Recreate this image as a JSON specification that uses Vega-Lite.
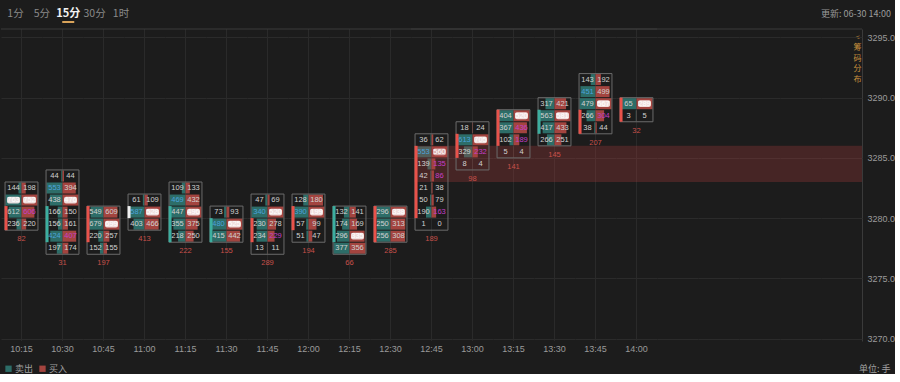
{
  "$schema": "https://vega.github.io/schema/vega-lite/v6.json",
  "background": "#1c1c1c",
  "padding": 0,
  "spacing": 0,
  "config": {"view": {"stroke": null}, "font": "Liberation Sans"},
  "title": {"text": "单位: 手", "orient": "bottom", "anchor": "end", "frame": "bounds", "fontSize": 9, "fontWeight": "normal", "color": "#a0a0a0", "font": "Noto Sans CJK SC", "offset": 0, "dy": -9, "dx": -4},
  "datasets": {
    "tabs": [{"tab": "1分"}, {"tab": "5分"}, {"tab": "15分"}, {"tab": "30分"}, {"tab": "1时"}],
    "fp": [
      {"k":"c","t":"10:15","lo":3282,"hi":3283,"s":144,"b":198,"sc":"n","bc":"n"},
      {"k":"c","t":"10:15","lo":3281,"hi":3282,"s":763,"b":752,"sc":"m","bc":"m"},
      {"k":"c","t":"10:15","lo":3280,"hi":3281,"s":612,"b":606,"sc":"n","bc":"bi"},
      {"k":"c","t":"10:15","lo":3279,"hi":3280,"s":236,"b":220,"sc":"n","bc":"n"},
      {"k":"c","t":"10:30","lo":3283,"hi":3284,"s":44,"b":44,"sc":"n","bc":"n"},
      {"k":"c","t":"10:30","lo":3282,"hi":3283,"s":553,"b":394,"sc":"si","bc":"n"},
      {"k":"c","t":"10:30","lo":3281,"hi":3282,"s":438,"b":476,"sc":"n","bc":"m"},
      {"k":"c","t":"10:30","lo":3280,"hi":3281,"s":166,"b":150,"sc":"n","bc":"n"},
      {"k":"c","t":"10:30","lo":3279,"hi":3280,"s":156,"b":161,"sc":"n","bc":"n"},
      {"k":"c","t":"10:30","lo":3278,"hi":3279,"s":424,"b":407,"sc":"si","bc":"bi"},
      {"k":"c","t":"10:30","lo":3277,"hi":3278,"s":197,"b":174,"sc":"n","bc":"n"},
      {"k":"c","t":"10:45","lo":3280,"hi":3281,"s":549,"b":609,"sc":"n","bc":"n"},
      {"k":"c","t":"10:45","lo":3279,"hi":3280,"s":679,"b":699,"sc":"n","bc":"m"},
      {"k":"c","t":"10:45","lo":3278,"hi":3279,"s":220,"b":257,"sc":"n","bc":"n"},
      {"k":"c","t":"10:45","lo":3277,"hi":3278,"s":152,"b":155,"sc":"n","bc":"n"},
      {"k":"c","t":"11:00","lo":3281,"hi":3282,"s":61,"b":109,"sc":"n","bc":"n"},
      {"k":"c","t":"11:00","lo":3280,"hi":3281,"s":587,"b":528,"sc":"si","bc":"m"},
      {"k":"c","t":"11:00","lo":3279,"hi":3280,"s":403,"b":466,"sc":"n","bc":"n"},
      {"k":"c","t":"11:15","lo":3282,"hi":3283,"s":109,"b":133,"sc":"n","bc":"n"},
      {"k":"c","t":"11:15","lo":3281,"hi":3282,"s":469,"b":432,"sc":"si","bc":"n"},
      {"k":"c","t":"11:15","lo":3280,"hi":3281,"s":447,"b":496,"sc":"n","bc":"m"},
      {"k":"c","t":"11:15","lo":3279,"hi":3280,"s":355,"b":375,"sc":"n","bc":"n"},
      {"k":"c","t":"11:15","lo":3278,"hi":3279,"s":218,"b":250,"sc":"n","bc":"n"},
      {"k":"c","t":"11:30","lo":3280,"hi":3281,"s":73,"b":93,"sc":"n","bc":"n"},
      {"k":"c","t":"11:30","lo":3279,"hi":3280,"s":480,"b":525,"sc":"si","bc":"m"},
      {"k":"c","t":"11:30","lo":3278,"hi":3279,"s":415,"b":442,"sc":"n","bc":"n"},
      {"k":"c","t":"11:45","lo":3281,"hi":3282,"s":47,"b":69,"sc":"n","bc":"n"},
      {"k":"c","t":"11:45","lo":3280,"hi":3281,"s":340,"b":520,"sc":"si","bc":"m"},
      {"k":"c","t":"11:45","lo":3279,"hi":3280,"s":230,"b":278,"sc":"n","bc":"n"},
      {"k":"c","t":"11:45","lo":3278,"hi":3279,"s":234,"b":229,"sc":"n","bc":"bi"},
      {"k":"c","t":"11:45","lo":3277,"hi":3278,"s":13,"b":11,"sc":"n","bc":"n"},
      {"k":"c","t":"12:00","lo":3281,"hi":3282,"s":128,"b":180,"sc":"n","bc":"n"},
      {"k":"c","t":"12:00","lo":3280,"hi":3281,"s":390,"b":199,"sc":"si","bc":"m"},
      {"k":"c","t":"12:00","lo":3279,"hi":3280,"s":57,"b":99,"sc":"n","bc":"n"},
      {"k":"c","t":"12:00","lo":3278,"hi":3279,"s":51,"b":47,"sc":"n","bc":"n"},
      {"k":"c","t":"12:15","lo":3280,"hi":3281,"s":132,"b":141,"sc":"n","bc":"n"},
      {"k":"c","t":"12:15","lo":3279,"hi":3280,"s":174,"b":169,"sc":"n","bc":"n"},
      {"k":"c","t":"12:15","lo":3278,"hi":3279,"s":296,"b":335,"sc":"n","bc":"m"},
      {"k":"c","t":"12:15","lo":3277,"hi":3278,"s":377,"b":356,"sc":"n","bc":"n"},
      {"k":"c","t":"12:30","lo":3280,"hi":3281,"s":296,"b":338,"sc":"n","bc":"m"},
      {"k":"c","t":"12:30","lo":3279,"hi":3280,"s":250,"b":313,"sc":"n","bc":"n"},
      {"k":"c","t":"12:30","lo":3278,"hi":3279,"s":256,"b":308,"sc":"n","bc":"n"},
      {"k":"c","t":"12:45","lo":3286,"hi":3287,"s":36,"b":62,"sc":"n","bc":"n"},
      {"k":"c","t":"12:45","lo":3285,"hi":3286,"s":553,"b":560,"sc":"si","bc":"m"},
      {"k":"c","t":"12:45","lo":3284,"hi":3285,"s":139,"b":135,"sc":"n","bc":"bi"},
      {"k":"c","t":"12:45","lo":3283,"hi":3284,"s":42,"b":86,"sc":"n","bc":"bi"},
      {"k":"c","t":"12:45","lo":3282,"hi":3283,"s":21,"b":38,"sc":"n","bc":"n"},
      {"k":"c","t":"12:45","lo":3281,"hi":3282,"s":50,"b":79,"sc":"n","bc":"n"},
      {"k":"c","t":"12:45","lo":3280,"hi":3281,"s":190,"b":163,"sc":"n","bc":"bi"},
      {"k":"c","t":"12:45","lo":3279,"hi":3280,"s":1,"b":0,"sc":"n","bc":"n"},
      {"k":"c","t":"13:00","lo":3287,"hi":3288,"s":18,"b":24,"sc":"n","bc":"n"},
      {"k":"c","t":"13:00","lo":3286,"hi":3287,"s":613,"b":705,"sc":"si","bc":"m"},
      {"k":"c","t":"13:00","lo":3285,"hi":3286,"s":329,"b":232,"sc":"n","bc":"bi"},
      {"k":"c","t":"13:00","lo":3284,"hi":3285,"s":8,"b":4,"sc":"n","bc":"n"},
      {"k":"c","t":"13:15","lo":3288,"hi":3289,"s":404,"b":520,"sc":"n","bc":"m"},
      {"k":"c","t":"13:15","lo":3287,"hi":3288,"s":367,"b":436,"sc":"n","bc":"bi"},
      {"k":"c","t":"13:15","lo":3286,"hi":3287,"s":102,"b":189,"sc":"n","bc":"bi"},
      {"k":"c","t":"13:15","lo":3285,"hi":3286,"s":5,"b":4,"sc":"n","bc":"n"},
      {"k":"c","t":"13:30","lo":3289,"hi":3290,"s":317,"b":421,"sc":"n","bc":"n"},
      {"k":"c","t":"13:30","lo":3288,"hi":3289,"s":563,"b":581,"sc":"n","bc":"m"},
      {"k":"c","t":"13:30","lo":3287,"hi":3288,"s":417,"b":433,"sc":"n","bc":"n"},
      {"k":"c","t":"13:30","lo":3286,"hi":3287,"s":266,"b":251,"sc":"n","bc":"n"},
      {"k":"c","t":"13:45","lo":3291,"hi":3292,"s":143,"b":192,"sc":"n","bc":"n"},
      {"k":"c","t":"13:45","lo":3290,"hi":3291,"s":451,"b":499,"sc":"si","bc":"n"},
      {"k":"c","t":"13:45","lo":3289,"hi":3290,"s":479,"b":567,"sc":"n","bc":"m"},
      {"k":"c","t":"13:45","lo":3288,"hi":3289,"s":266,"b":304,"sc":"n","bc":"bi"},
      {"k":"c","t":"13:45","lo":3287,"hi":3288,"s":38,"b":44,"sc":"n","bc":"n"},
      {"k":"c","t":"14:00","lo":3289,"hi":3290,"s":65,"b":289,"sc":"n","bc":"m"},
      {"k":"c","t":"14:00","lo":3288,"hi":3289,"s":3,"b":5,"sc":"n","bc":"n"},
      {"k":"k","t":"10:15","o":3279,"c":3281,"dir":"up","low":3279,"d":82},
      {"k":"k","t":"10:30","o":3278,"c":3281,"dir":"dn","low":3277,"d":31},
      {"k":"k","t":"10:45","o":3278,"c":3281,"dir":"up","low":3277,"d":197},
      {"k":"k","t":"11:00","o":3280,"c":3281,"dir":"flat","low":3279,"d":413},
      {"k":"k","t":"11:15","o":3278,"c":3281,"dir":"dn","low":3278,"d":222},
      {"k":"k","t":"11:30","o":3278,"c":3280,"dir":"dn","low":3278,"d":155},
      {"k":"k","t":"11:45","o":3278,"c":3280,"dir":"up","low":3277,"d":289},
      {"k":"k","t":"12:00","o":3279,"c":3281,"dir":"up","low":3278,"d":194},
      {"k":"k","t":"12:15","o":3278,"c":3281,"dir":"dn","low":3277,"d":66},
      {"k":"k","t":"12:30","o":3278,"c":3281,"dir":"up","low":3278,"d":285},
      {"k":"k","t":"12:45","o":3280,"c":3286,"dir":"up","low":3279,"d":189},
      {"k":"k","t":"13:00","o":3285,"c":3287,"dir":"up","low":3284,"d":98},
      {"k":"k","t":"13:15","o":3286,"c":3289,"dir":"up","low":3285,"d":141},
      {"k":"k","t":"13:30","o":3287,"c":3289,"dir":"dn","low":3286,"d":145},
      {"k":"k","t":"13:45","o":3287,"c":3289,"dir":"up","low":3287,"d":207},
      {"k":"k","t":"14:00","o":3288,"c":3290,"dir":"up","low":3288,"d":32},
      {"k":"b","t":"12:45","lo":3283,"hi":3286},
      {"k":"b","t":"13:00","lo":3283,"hi":3286},
      {"k":"b","t":"13:15","lo":3283,"hi":3286},
      {"k":"b","t":"13:30","lo":3283,"hi":3286},
      {"k":"b","t":"13:45","lo":3283,"hi":3286},
      {"k":"b","t":"14:00","lo":3283,"hi":3286},
      {"k":"b","t":"14:15","lo":3283,"hi":3286},
      {"k":"b","t":"14:30","lo":3283,"hi":3286},
      {"k":"b","t":"14:45","lo":3283,"hi":3286},
      {"k":"b","t":"15:00","lo":3283,"hi":3286},
      {"k":"b","t":"15:15","lo":3283,"hi":3286}
    ]
  },
  "vconcat": [
    {
      "width": 890,
      "height": 28,
      "layer": [
        {
          "data": {"name": "tabs"},
          "transform": [{"filter": "datum.tab != '15分'"}],
          "mark": {"type": "text", "fontSize": 10.5, "font": "Noto Sans CJK SC", "color": "#8a8a8a"},
          "encoding": {
            "x": {"field": "tab", "type": "nominal", "scale": {"type": "point", "padding": 0, "domain": ["1分", "5分", "15分", "30分", "1时"], "range": [14.5, 120]}, "axis": null},
            "text": {"field": "tab"}
          }
        },
        {
          "data": {"name": "tabs"},
          "transform": [{"filter": "datum.tab == '15分'"}],
          "mark": {"type": "text", "fontSize": 11, "fontWeight": "bold", "font": "Noto Sans CJK SC", "color": "#f2f2f2"},
          "encoding": {
            "x": {"field": "tab", "type": "nominal", "scale": {"type": "point", "padding": 0, "domain": ["1分", "5分", "15分", "30分", "1时"], "range": [14.5, 120]}, "axis": null},
            "text": {"field": "tab"}
          }
        },
        {
          "data": {"name": "tabs"},
          "transform": [{"filter": "datum.tab == '15分'"}],
          "mark": {"type": "tick", "orient": "horizontal", "size": 12, "thickness": 2, "color": "#d9a35a", "opacity": 1, "yOffset": 8},
          "encoding": {
            "x": {"field": "tab", "type": "nominal", "scale": {"type": "point", "padding": 0, "domain": ["1分", "5分", "15分", "30分", "1时"], "range": [14.5, 120]}, "axis": null}
          }
        },
        {
          "data": {"values": [{"u": "更新: 06-30 14:00"}]},
          "mark": {"type": "text", "align": "right", "fontSize": 9, "color": "#9a9a9a", "font": "Noto Sans CJK SC"},
          "encoding": {"x": {"value": "width"}, "text": {"field": "u"}}
        }
      ]
    },
    {
      "data": {"name": "fp"},
      "bounds": "flush",
      "facet": {
        "column": {
          "field": "t", "type": "ordinal",
          "header": {"labelOrient": "bottom", "labelColor": "#9a9a9a", "labelFontSize": 9, "labelFont": "Liberation Sans Narrow, Liberation Sans, sans-serif", "labelPadding": 4, "labelExpr": "datum.value > '14:00' ? '' : datum.value", "title": null}
        }
      },
      "spacing": {"column": 0},
      "resolve": {"scale": {"x": "independent"}},
      "spec": {
        "width": 41,
        "height": 312,
        "resolve": {"scale": {"x": "independent"}},
        "layer": [
          {
            "transform": [{"filter": "datum.k == 'k'"}],
            "mark": {"type": "rule", "color": "#2a2a2a", "strokeWidth": 1},
            "encoding": {
              "x": {"datum": 0.5, "type": "quantitative", "scale": {"domain": [0, 1], "nice": false, "zero": false}, "axis": null}
            }
          },
          {
            "transform": [{"filter": "datum.k == 'k' || datum.k == 'b'"}],
            "mark": {"type": "rule", "color": "#3a3a3a", "strokeWidth": 1},
            "encoding": {
              "x": {"datum": 0, "type": "quantitative", "scale": {"domain": [0, 1], "nice": false, "zero": false}, "axis": null},
              "x2": {"datum": 1},
              "y": {"datum": 3295.7, "type": "quantitative", "scale": {"domain": [3269.8, 3295.7], "nice": false, "zero": false}}
            }
          },
          {
            "transform": [{"filter": "datum.k == 'c'"}],
            "mark": {"type": "rect", "yOffset": -0.5, "y2Offset": 0.5},
            "encoding": {
              "x": {"field": "s", "type": "quantitative", "scale": {"range": [20.5, 4.5], "nice": false}, "axis": null},
              "x2": {"datum": 0},
              "y": {"field": "lo", "type": "quantitative", "scale": {"domain": [3269.8, 3295.7], "nice": false, "zero": false},
                "axis": {"orient": "right", "values": [3270, 3275, 3280, 3285, 3290, 3295], "format": ".1f", "grid": true, "gridColor": "#2b2b2b", "ticks": false, "domain": true, "domainColor": "#3a3a3a", "labelColor": "#9a9a9a", "labelFontSize": 9, "labelFont": "Liberation Sans Narrow, Liberation Sans, sans-serif", "labelPadding": 5, "title": ["<", "筹", "码", "分", "布"], "titleAngle": 0, "titleX": -5, "titleY": 4, "titleAlign": "center", "titleBaseline": "top", "titleFontSize": 8, "titleLineHeight": 10.5, "titleColor": "#c8913d", "titleFont": "Noto Sans CJK SC", "titleFontWeight": "normal"}},
              "y2": {"field": "hi"},
              "fill": {"datum": "卖出", "type": "nominal", "scale": {"domain": ["卖出", "买入"], "range": ["#2d6d68", "#a3443f"]},
                "legend": {"orient": "none", "legendX": 3, "legendY": 364, "direction": "horizontal", "title": null, "symbolType": "square", "symbolSize": 40, "labelColor": "#a0a0a0", "labelFontSize": 9, "labelFont": "Noto Sans CJK SC", "columnPadding": 4, "labelOffset": 2, "symbolStrokeWidth": 0}}
            }
          },
          {
            "transform": [{"filter": "datum.k == 'c'"}],
            "mark": {"type": "rect", "yOffset": -0.5, "y2Offset": 0.5},
            "encoding": {
              "x": {"field": "b", "type": "quantitative", "scale": {"range": [20.5, 36.5], "nice": false}, "axis": null},
              "x2": {"datum": 0},
              "y": {"field": "lo", "type": "quantitative", "scale": {"domain": [3269.8, 3295.7], "nice": false, "zero": false}},
              "y2": {"field": "hi"},
              "fill": {"datum": "买入", "type": "nominal", "scale": {"domain": ["卖出", "买入"], "range": ["#2d6d68", "#a3443f"]}}
            }
          },
          {
            "transform": [{"filter": "datum.k == 'c' && datum.sc == 'm'"}],
            "mark": {"type": "rect", "yOffset": -2.6, "y2Offset": 2.6, "cornerRadius": 2, "fill": "#f6eaea", "opacity": 0.92},
            "encoding": {
              "x": {"datum": 0.147, "type": "quantitative", "scale": {"domain": [0, 1], "nice": false, "zero": false}, "axis": null},
              "x2": {"datum": 0.463},
              "y": {"field": "lo", "type": "quantitative", "scale": {"domain": [3269.8, 3295.7], "nice": false, "zero": false}},
              "y2": {"field": "hi"}
            }
          },
          {
            "transform": [{"filter": "datum.k == 'c' && datum.bc == 'm'"}],
            "mark": {"type": "rect", "yOffset": -2.6, "y2Offset": 2.6, "cornerRadius": 2, "fill": "#f6eaea", "opacity": 0.92},
            "encoding": {
              "x": {"datum": 0.537, "type": "quantitative", "scale": {"domain": [0, 1], "nice": false, "zero": false}, "axis": null},
              "x2": {"datum": 0.853},
              "y": {"field": "lo", "type": "quantitative", "scale": {"domain": [3269.8, 3295.7], "nice": false, "zero": false}},
              "y2": {"field": "hi"}
            }
          },
          {
            "transform": [{"filter": "datum.k == 'b' && datum.t == '12:45'"}],
            "mark": {"type": "rect", "fill": "#a83a3a", "opacity": 0.3},
            "encoding": {
              "x": {"datum": 0.087, "type": "quantitative", "scale": {"domain": [0, 1], "nice": false, "zero": false}, "axis": null},
              "x2": {"datum": 1},
              "y": {"field": "lo", "type": "quantitative", "scale": {"domain": [3269.8, 3295.7], "nice": false, "zero": false}},
              "y2": {"field": "hi"}
            }
          },
          {
            "transform": [{"filter": "datum.k == 'b' && datum.t != '12:45'"}],
            "mark": {"type": "rect", "fill": "#a83a3a", "opacity": 0.3},
            "encoding": {
              "x": {"datum": 0, "type": "quantitative", "scale": {"domain": [0, 1], "nice": false, "zero": false}, "axis": null},
              "x2": {"datum": 1},
              "y": {"field": "lo", "type": "quantitative", "scale": {"domain": [3269.8, 3295.7], "nice": false, "zero": false}},
              "y2": {"field": "hi"}
            }
          },
          {
            "transform": [{"filter": "datum.k == 'c'"}],
            "mark": {"type": "text", "fontSize": 7.5, "dy": -6, "baseline": "middle", "font": "Liberation Sans Narrow, Liberation Sans, sans-serif"},
            "encoding": {
              "x": {"datum": 0.3054, "type": "quantitative", "scale": {"domain": [0, 1], "nice": false, "zero": false}, "axis": null},
              "y": {"field": "lo", "type": "quantitative", "scale": {"domain": [3269.8, 3295.7], "nice": false, "zero": false}},
              "text": {"field": "s", "type": "quantitative", "format": "d"},
              "color": {"field": "sc", "type": "nominal", "scale": {"domain": ["n", "si", "bi", "m", "up", "dn", "flat"], "range": ["#d2d2d2", "#4ba3dd", "#c43fc9", "#ffffff", "#e9524a", "#3cae9f", "#eeeeee"]}, "legend": null}
            }
          },
          {
            "transform": [{"filter": "datum.k == 'c'"}],
            "mark": {"type": "text", "fontSize": 7.5, "dy": -6, "baseline": "middle", "font": "Liberation Sans Narrow, Liberation Sans, sans-serif"},
            "encoding": {
              "x": {"datum": 0.6946, "type": "quantitative", "scale": {"domain": [0, 1], "nice": false, "zero": false}, "axis": null},
              "y": {"field": "lo", "type": "quantitative", "scale": {"domain": [3269.8, 3295.7], "nice": false, "zero": false}},
              "text": {"field": "b", "type": "quantitative", "format": "d"},
              "color": {"field": "bc", "type": "nominal", "scale": {"domain": ["n", "si", "bi", "m", "up", "dn", "flat"], "range": ["#d2d2d2", "#4ba3dd", "#c43fc9", "#ffffff", "#e9524a", "#3cae9f", "#eeeeee"]}, "legend": null}
            }
          },
          {
            "transform": [{"filter": "datum.k == 'c'"}],
            "mark": {"type": "rect", "fill": "transparent", "stroke": "#6b6b6b", "strokeWidth": 1},
            "encoding": {
              "x": {"datum": 0.0985, "type": "quantitative", "scale": {"domain": [0, 1], "nice": false, "zero": false}, "axis": null},
              "x2": {"datum": 0.9015},
              "y": {"aggregate": "min", "field": "lo", "type": "quantitative", "scale": {"domain": [3269.8, 3295.7], "nice": false, "zero": false}},
              "y2": {"aggregate": "max", "field": "hi"}
            }
          },
          {
            "transform": [{"filter": "datum.k == 'k'"}],
            "mark": {"type": "rect"},
            "encoding": {
              "x": {"datum": 0.087, "type": "quantitative", "scale": {"domain": [0, 1], "nice": false, "zero": false}, "axis": null},
              "x2": {"datum": 0.16},
              "y": {"field": "o", "type": "quantitative", "scale": {"domain": [3269.8, 3295.7], "nice": false, "zero": false}},
              "y2": {"field": "c"},
              "color": {"field": "dir", "type": "nominal", "scale": {"domain": ["n", "si", "bi", "m", "up", "dn", "flat"], "range": ["#d2d2d2", "#4ba3dd", "#c43fc9", "#ffffff", "#e9524a", "#3cae9f", "#eeeeee"]}, "legend": null}
            }
          },
          {
            "transform": [{"filter": "datum.k == 'k'"}],
            "mark": {"type": "text", "fontSize": 7.5, "dy": 9, "baseline": "middle", "color": "#c8504a", "font": "Liberation Sans Narrow, Liberation Sans, sans-serif"},
            "encoding": {
              "x": {"datum": 0.5, "type": "quantitative", "scale": {"domain": [0, 1], "nice": false, "zero": false}, "axis": null},
              "y": {"field": "low", "type": "quantitative", "scale": {"domain": [3269.8, 3295.7], "nice": false, "zero": false}},
              "text": {"field": "d", "type": "quantitative", "format": "d"}
            }
          }
        ]
      }
    }
  ]
}
